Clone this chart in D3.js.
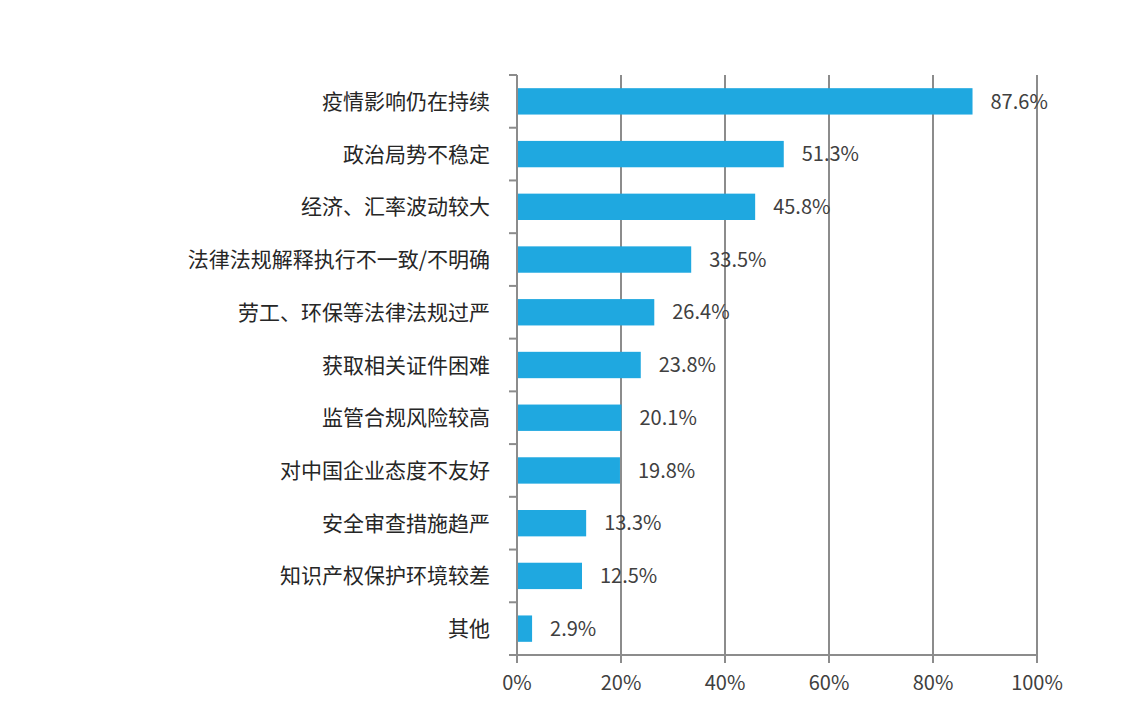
<!DOCTYPE html>
<html><head><meta charset="utf-8">
<script src="https://cdn.jsdelivr.net/npm/d3@7"></script>
<style>body{margin:0;background:#fff}</style></head>
<body><svg id="c" width="1142" height="720"></svg>
<script>
const categories=["疫情影响仍在持续","政治局势不稳定","经济、汇率波动较大","法律法规解释执行不一致/不明确","劳工、环保等法律法规过严","获取相关证件困难","监管合规风险较高","对中国企业态度不友好","安全审查措施趋严","知识产权保护环境较差","其他"];
const values=[87.6,51.3,45.8,33.5,26.4,23.8,20.1,19.8,13.3,12.5,2.9];
const ticks=[0,20,40,60,80,100];
const svg=d3.select("#c");
const font="'Noto Sans CJK SC','Noto Sans',sans-serif";
const x=d3.scaleLinear().domain([0,100]).range([517,1037]);
const y=d3.scaleBand().domain(categories).range([75,655]).paddingInner(0.5).paddingOuter(0.25);
const g=svg.append("g");
// gridlines
g.selectAll(".grid").data(ticks.slice(1)).join("line")
 .attr("x1",d=>x(d)).attr("x2",d=>x(d)).attr("y1",75).attr("y2",655)
 .attr("stroke","#8c8c8c").attr("stroke-width",2);
// bars
g.selectAll(".bar").data(values).join("rect")
 .attr("x",x(0)).attr("y",(d,i)=>y(categories[i])).attr("width",d=>x(d)-x(0)).attr("height",y.bandwidth())
 .attr("fill","#1fa8e0");
// value labels
g.selectAll(".val").data(values).join("text")
 .attr("x",d=>x(d)+18).attr("y",(d,i)=>y(categories[i])+y.bandwidth()/2).attr("dy","0.36em")
 .attr("font-family",font).attr("font-size",20).attr("fill","#404040").text(d=>d.toFixed(1)+"%");
// left axis
const step=(655-75)/categories.length;
g.append("line").attr("x1",517).attr("x2",517).attr("y1",75).attr("y2",655).attr("stroke","#8c8c8c").attr("stroke-width",2);
g.selectAll(".lt").data(d3.range(categories.length+1)).join("line")
 .attr("x1",509).attr("x2",517).attr("y1",d=>75+d*step).attr("y2",d=>75+d*step).attr("stroke","#8c8c8c").attr("stroke-width",2);
g.selectAll(".cat").data(categories).join("text")
 .attr("x",490).attr("y",d=>y(d)+y.bandwidth()/2).attr("dy","0.36em").attr("text-anchor","end")
 .attr("font-family",font).attr("font-size",21).attr("fill","#262626").text(d=>d);
// bottom axis
g.append("line").attr("x1",517).attr("x2",1037).attr("y1",655).attr("y2",655).attr("stroke","#8c8c8c").attr("stroke-width",2);
g.selectAll(".bt").data(ticks).join("line")
 .attr("x1",d=>x(d)).attr("x2",d=>x(d)).attr("y1",655).attr("y2",663).attr("stroke","#8c8c8c").attr("stroke-width",2);
g.selectAll(".bl").data(ticks).join("text")
 .attr("x",d=>x(d)).attr("y",690).attr("text-anchor","middle")
 .attr("font-family",font).attr("font-size",20).attr("fill","#404040").text(d=>d+"%");
</script></body></html>
